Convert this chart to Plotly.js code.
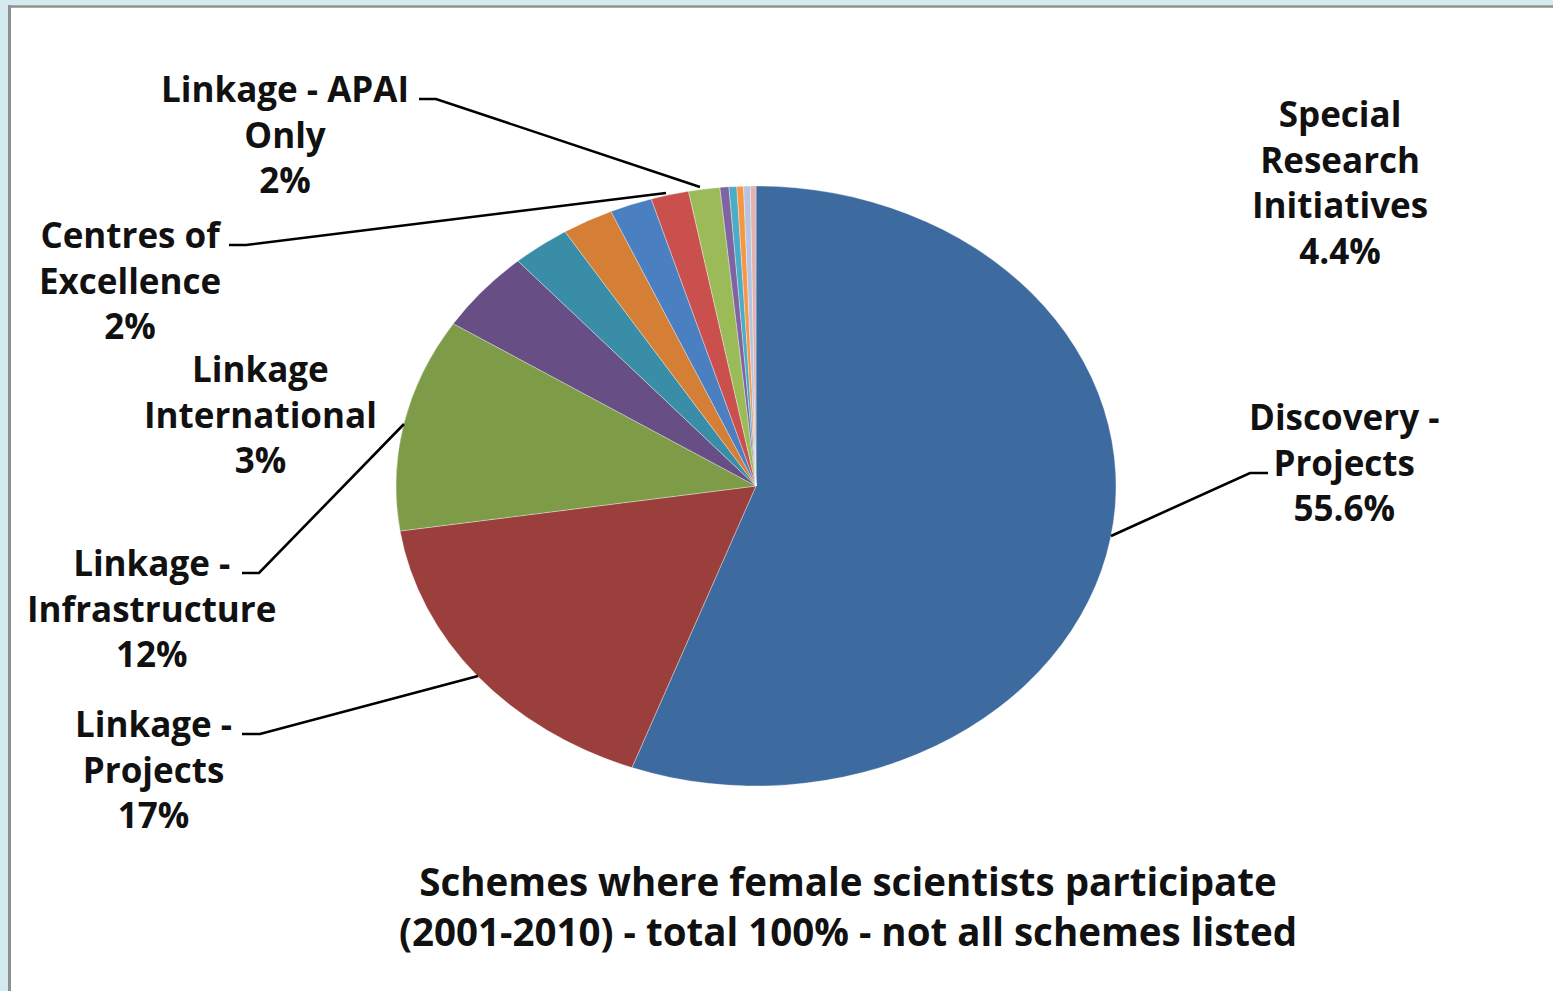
<!DOCTYPE html>
<html>
<head>
<meta charset="utf-8">
<script src="https://cdn.plot.ly/plotly-3.0.1.min.js"></script>
<style>
  html, body { margin: 0; padding: 0; background: #ffffff; }
  #chart { width: 1553px; height: 991px; }
</style>
</head>
<body>
<div id="chart"></div>
<script>
// ---- data ----
const sliceValues = [55.6, 17.0, 11.5, 4.4, 2.6, 2.3, 1.9, 1.7, 1.4, 0.4, 0.35, 0.3, 0.3, 0.25];
const labelNames = [
  "Discovery -<br>Projects",
  "Linkage -<br>Projects",
  "Linkage -<br>Infrastructure",
  "Special<br>Research<br>Initiatives",
  "Linkage<br>International",
  "Centres of<br>Excellence",
  "Linkage - APAI<br>Only"
];
const labelPercents = ["55.6%", "17%", "12%", "4.4%", "3%", "2%", "2%"];
const chartTitle = "Schemes where female scientists participate<br>(2001-2010) - total 100% - not all schemes listed";

// ---- styling ----
const palette = ["#3E6B9F", "#9B3F3D", "#7E9B48", "#674F86", "#3A8DA6", "#D57E36",
                 "#4A7FC1", "#C9504D", "#9BBB59", "#8064A2", "#4BACC6", "#F79646",
                 "#B5C4E0", "#E0B2B0"];
const W = 1553, H = 991;
const px = (x) => x / W;
const py = (y) => 1 - y / H;
// label centres (pixels) in same order as labelNames
const labelPos = [[1344, 462], [153, 769], [151, 608], [1340, 182], [260, 414], [130, 280], [285, 134]];
// leader lines (pixels)
const leaders = [
  [[1268, 473], [1250, 473], [1111, 536]],
  [[242, 734], [260, 734], [478, 676]],
  [[242, 573], [259, 573], [404, 424]],
  null,
  null,
  [[229, 245], [246, 245], [666, 193]],
  [[419, 99], [436, 99], [700, 187]]
];
const stretch = 1.2; // reference pie is drawn as an ellipse (wider than tall)

const trace = {
  type: "pie",
  values: sliceValues,
  sort: false,
  direction: "clockwise",
  rotation: 0,
  textinfo: "none",
  hoverinfo: "none",
  showlegend: false,
  marker: { colors: palette, line: { color: "rgba(255,255,255,0.5)", width: 0.6 } },
  domain: { x: [0.2868, 0.6868], y: [py(786), py(186)] }
};

const font = { family: "'Open Sans', 'Noto Sans', sans-serif", size: 35, color: "#111111" };

const annotations = labelNames.map((n, i) => ({
  xref: "paper", yref: "paper",
  x: px(labelPos[i][0]), y: py(labelPos[i][1]),
  xanchor: "center", yanchor: "middle",
  text: "<b>" + n + "<br>" + labelPercents[i] + "</b>",
  showarrow: false, align: "center",
  font: font
}));
annotations.push({
  xref: "paper", yref: "paper", x: px(848), y: py(906),
  xanchor: "center", yanchor: "middle", showarrow: false, align: "center",
  text: "<b>" + chartTitle + "</b>",
  font: { family: font.family, size: 38.5, color: "#111111" }
});

const shapes = [];
// frame: light dotted band and grey edge line (left and top)
shapes.push({ type: "rect", xref: "paper", yref: "paper", x0: 0, x1: px(8), y0: 0, y1: 1,
  fillcolor: "#d3eaee", line: { width: 0 }, layer: "below" });
shapes.push({ type: "rect", xref: "paper", yref: "paper", x0: 0, x1: 1, y0: py(5), y1: 1,
  fillcolor: "#d3eaee", line: { width: 0 }, layer: "below" });
shapes.push({ type: "line", xref: "paper", yref: "paper", x0: px(9.5), x1: px(9.5), y0: 0, y1: py(5),
  line: { color: "#8f8f8f", width: 3 } });
shapes.push({ type: "line", xref: "paper", yref: "paper", x0: px(8), x1: 1, y0: py(6.5), y1: py(6.5),
  line: { color: "#8f8f8f", width: 2.5 } });
leaders.forEach(l => {
  if (!l) return;
  const d = l.map((p, k) => (k ? "L" : "M") + px(p[0]) + "," + py(p[1])).join(" ");
  shapes.push({ type: "path", xref: "paper", yref: "paper", path: d,
    line: { color: "#000000", width: 2.6 } });
});

const layout = {
  width: W, height: H,
  margin: { l: 0, r: 0, t: 0, b: 0 },
  paper_bgcolor: "#ffffff",
  plot_bgcolor: "#ffffff",
  showlegend: false,
  annotations: annotations,
  shapes: shapes
};

Plotly.newPlot("chart", [trace], layout, { staticPlot: true }).then(gd => {
  const cd0 = gd.calcdata[0][0];
  const cx = cd0.cx;
  const layer = gd.querySelector(".pielayer");
  if (layer) layer.setAttribute("transform",
    "translate(" + cx + ",0) scale(" + stretch + ",1) translate(" + (-cx) + ",0)");
});
</script>
</body>
</html>
